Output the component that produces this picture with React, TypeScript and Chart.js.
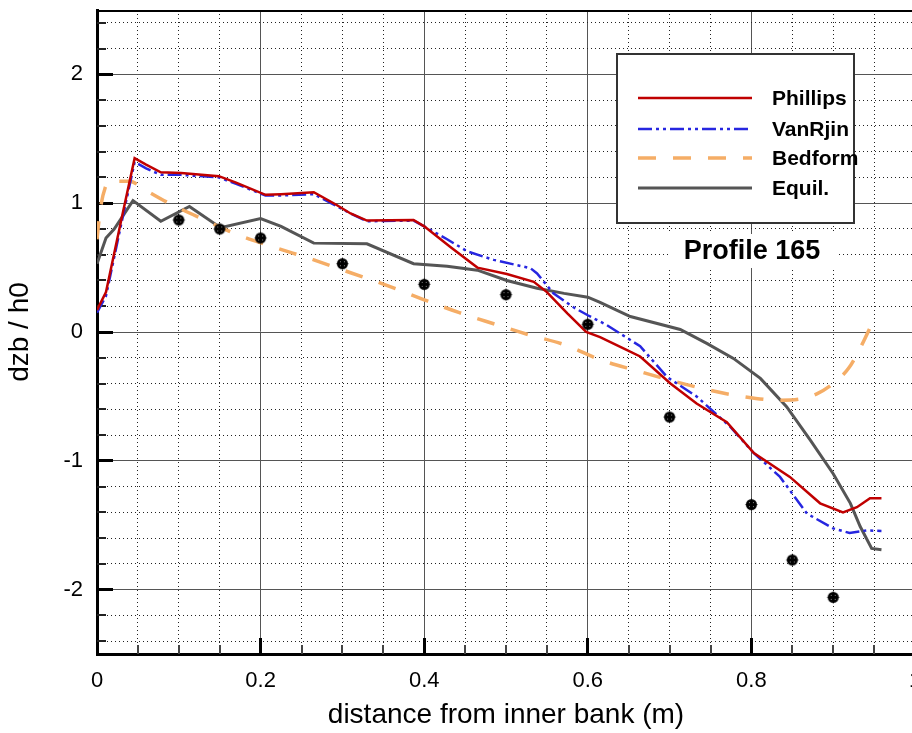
import React, { useEffect, useRef } from "react";
import { Chart, registerables } from "chart.js";

Chart.register(...registerables);

// ---- data (x = distance from inner bank [m], y = dzb/h0) ----
const PHILLIPS: [number, number][] = [
  [0.0, 0.17], [0.011, 0.31], [0.03, 0.88], [0.046, 1.35], [0.06, 1.3], [0.078, 1.24],
  [0.103, 1.235], [0.149, 1.21], [0.17, 1.16], [0.206, 1.065], [0.225, 1.07], [0.265, 1.085],
  [0.292, 0.99], [0.31, 0.92], [0.33, 0.865], [0.387, 0.87], [0.4, 0.82], [0.432, 0.66],
  [0.465, 0.5], [0.501, 0.45], [0.534, 0.39], [0.55, 0.31], [0.575, 0.145], [0.598, 0.0],
  [0.615, -0.04], [0.648, -0.14], [0.664, -0.19], [0.701, -0.4], [0.733, -0.555], [0.77, -0.7],
  [0.803, -0.94], [0.847, -1.125], [0.884, -1.33], [0.912, -1.4], [0.929, -1.36], [0.945, -1.29],
  [0.959, -1.29],
];

const VANRIJN: [number, number][] = [
  [0.0, 0.15], [0.011, 0.28], [0.03, 0.85], [0.046, 1.32], [0.06, 1.27], [0.078, 1.22],
  [0.103, 1.22], [0.149, 1.2], [0.17, 1.15], [0.206, 1.06], [0.225, 1.06], [0.265, 1.07],
  [0.292, 0.98], [0.31, 0.92], [0.33, 0.86], [0.387, 0.865], [0.4, 0.82], [0.428, 0.72],
  [0.453, 0.625], [0.485, 0.56], [0.53, 0.495], [0.538, 0.455], [0.558, 0.3], [0.583, 0.19],
  [0.6, 0.13], [0.623, 0.055], [0.664, -0.11], [0.697, -0.35], [0.733, -0.5], [0.774, -0.735],
  [0.803, -0.94], [0.835, -1.125], [0.868, -1.41], [0.9, -1.525], [0.92, -1.56], [0.941, -1.54],
  [0.959, -1.545],
];

const BEDFORM: [number, number][] = [
  [0.0, 0.72], [0.004, 0.95], [0.01, 1.12], [0.016, 1.17], [0.04, 1.17], [0.057, 1.11],
  [0.085, 1.01], [0.135, 0.86], [0.17, 0.76], [0.216, 0.66], [0.265, 0.56], [0.31, 0.46],
  [0.355, 0.36], [0.4, 0.25], [0.443, 0.15], [0.487, 0.06], [0.527, -0.02], [0.572, -0.1],
  [0.617, -0.22], [0.66, -0.3], [0.704, -0.38], [0.748, -0.45], [0.793, -0.505], [0.835, -0.53],
  [0.86, -0.52], [0.88, -0.48], [0.9, -0.4], [0.919, -0.28], [0.935, -0.1], [0.947, 0.06],
];

const EQUIL: [number, number][] = [
  [0.0, 0.53], [0.011, 0.73], [0.021, 0.8], [0.044, 1.02], [0.078, 0.86], [0.113, 0.975],
  [0.151, 0.81], [0.2, 0.88], [0.225, 0.82], [0.265, 0.69], [0.33, 0.685], [0.387, 0.53],
  [0.428, 0.51], [0.465, 0.48], [0.501, 0.4], [0.538, 0.34], [0.571, 0.3], [0.6, 0.27],
  [0.615, 0.23], [0.652, 0.12], [0.713, 0.02], [0.746, -0.09], [0.778, -0.205], [0.811, -0.36],
  [0.843, -0.58], [0.872, -0.84], [0.9, -1.1], [0.921, -1.33], [0.933, -1.51], [0.947, -1.68],
  [0.959, -1.69],
];

const OBS_X = [0.1, 0.15, 0.2, 0.3, 0.4, 0.5, 0.6, 0.7, 0.8, 0.85, 0.9];
const OBS_Y = [0.87, 0.8, 0.73, 0.53, 0.37, 0.29, 0.06, -0.66, -1.34, -1.77, -2.06];

const X_LABELS = [0, 0.2, 0.4, 0.6, 0.8, 1];
const Y_LABELS = [-2, -1, 0, 1, 2];
const X_MIN = 0, X_MAX = 1, Y_MIN = -2.5, Y_MAX = 2.5;

const SERIES_LABELS = ["Phillips", "VanRjin", "Bedform", "Equil."];
const PROFILE_TEXT = "Profile 165";
const X_TITLE = "distance from inner bank (m)";
const Y_TITLE = "dzb / h0";

const FONT = "'Liberation Sans', Arial, Helvetica, sans-serif";

const isMajorX = (v: number) => X_LABELS.some((l) => Math.abs(l - v) < 1e-6);
const isMajorY = (v: number) => Y_LABELS.some((l) => Math.abs(l - v) < 1e-6);
const toPts = (arr: [number, number][]) => arr.map(([x, y]) => ({ x, y }));

const alignPx = (p: number, w: number) => Math.round(p - w / 2) + w / 2;

function makeMarker(): HTMLCanvasElement {
  const c = document.createElement("canvas");
  c.width = 15;
  c.height = 15;
  const g = c.getContext("2d")!;
  g.fillStyle = "#000";
  g.beginPath();
  g.arc(7.5, 7.5, 5.5, 0, Math.PI * 2);
  g.fill();
  g.strokeStyle = "#000";
  g.lineWidth = 1;
  g.beginPath();
  g.moveTo(7.5, 1.5);
  g.lineTo(7.5, 13.5);
  g.moveTo(1.5, 7.5);
  g.lineTo(13.5, 7.5);
  g.stroke();
  g.fillStyle = "#8a8a8a";
  [[5, 5], [9, 5], [5, 9], [9, 9]].forEach(([x, y]) => g.fillRect(x, y, 1, 1));
  return c;
}

const decorPlugin = {
  id: "decor",
  beforeDatasetsDraw(chart: any) {
    const { ctx, chartArea: a, scales } = chart;
    const x = scales.x, y = scales.y;
    ctx.save();
    // top frame line
    ctx.strokeStyle = "#000";
    ctx.lineWidth = 2;
    ctx.beginPath();
    ctx.moveTo(a.left, a.top + 1);
    ctx.lineTo(a.right, a.top + 1);
    ctx.stroke();
    // inward ticks on left axis
    y.ticks.forEach((t: any) => {
      const major = isMajorY(t.value);
      const lw = major ? 3 : 2;
      const p = alignPx(y.getPixelForValue(t.value), lw);
      ctx.lineWidth = lw;
      ctx.strokeStyle = major ? "#000" : "#222";
      ctx.beginPath();
      ctx.moveTo(a.left, p);
      ctx.lineTo(a.left + (major ? 16 : 9), p);
      ctx.stroke();
    });
    // inward ticks on bottom axis
    x.ticks.forEach((t: any) => {
      if (t.value <= X_MIN + 1e-6) return;
      const major = isMajorX(t.value);
      const lw = major ? 3 : 2;
      const p = alignPx(x.getPixelForValue(t.value), lw);
      ctx.lineWidth = lw;
      ctx.strokeStyle = major ? "#000" : "#444";
      ctx.beginPath();
      ctx.moveTo(p, a.bottom);
      ctx.lineTo(p, a.bottom - (major ? 16 : 9));
      ctx.stroke();
    });
    ctx.restore();
  },
  afterDraw(chart: any) {
    const { ctx } = chart;
    ctx.save();
    // legend box
    ctx.fillStyle = "#fff";
    ctx.fillRect(616, 53, 238, 170);
    ctx.strokeStyle = "#333";
    ctx.lineWidth = 2;
    ctx.strokeRect(617, 54, 237, 169);
    const rows = [98, 129, 158, 188];
    chart.data.datasets.slice(0, 4).forEach((ds: any, i: number) => {
      const yy = rows[i];
      ctx.setLineDash(ds.borderDash || []);
      ctx.strokeStyle = ds.borderColor;
      ctx.lineWidth = ds.borderWidth;
      ctx.beginPath();
      ctx.moveTo(638, yy);
      ctx.lineTo(752, yy);
      ctx.stroke();
      ctx.setLineDash([]);
      ctx.fillStyle = "#000";
      ctx.font = `bold 21px ${FONT}`;
      ctx.textAlign = "left";
      ctx.textBaseline = "middle";
      ctx.fillText(ds.label, 772, yy + 1);
    });
    // profile label
    ctx.fillStyle = "#fff";
    ctx.fillRect(668, 234, 168, 34);
    ctx.fillStyle = "#000";
    ctx.font = `bold 27px ${FONT}`;
    ctx.textAlign = "center";
    ctx.textBaseline = "middle";
    ctx.fillText(PROFILE_TEXT, 752, 252);
    ctx.restore();
  },
};

export default function App() {
  const ref = useRef<HTMLCanvasElement | null>(null);

  useEffect(() => {
    if (!ref.current) return;
    const marker = makeMarker();
    const gridColor = (isMajor: (v: number) => boolean) => (c: any) =>
      c.tick && !isMajor(c.tick.value) ? "#222" : "#555";
    const gridDash = (isMajor: (v: number) => boolean) => (c: any) =>
      c.tick && !isMajor(c.tick.value) ? [1, 3] : [];

    const chart = new Chart(ref.current, {
      type: "line",
      data: {
        datasets: [
          {
            label: SERIES_LABELS[0],
            data: toPts(PHILLIPS),
            borderColor: "#c00000",
            borderWidth: 2.5,
            pointRadius: 0,
            tension: 0,
          },
          {
            label: SERIES_LABELS[1],
            data: toPts(VANRIJN),
            borderColor: "#2626e0",
            borderWidth: 2.5,
            borderDash: [14, 4, 3, 4, 3, 4],
            pointRadius: 0,
            tension: 0,
          },
          {
            label: SERIES_LABELS[2],
            data: toPts(BEDFORM),
            borderColor: "#f5ad66",
            borderWidth: 3.5,
            borderDash: [18, 17],
            pointRadius: 0,
            cubicInterpolationMode: "monotone",
          },
          {
            label: SERIES_LABELS[3],
            data: toPts(EQUIL),
            borderColor: "#555555",
            borderWidth: 3,
            pointRadius: 0,
            tension: 0,
          },
          {
            label: "Observed",
            data: OBS_X.map((x, i) => ({ x, y: OBS_Y[i] })),
            showLine: false,
            pointStyle: marker as any,
            pointRadius: 7,
            order: -1,
          } as any,
        ],
      },
      options: {
        responsive: false,
        animation: false,
        devicePixelRatio: 1,
        events: [],
        layout: { padding: { left: 0, top: 10, right: 15, bottom: 0 } },
        plugins: { legend: { display: false }, tooltip: { enabled: false } },
        scales: {
          x: {
            type: "linear",
            min: X_MIN,
            max: X_MAX,
            afterBuildTicks: (s: any) => {
              const t = [];
              for (let k = 0; k <= 20; k++) t.push({ value: k / 20 });
              s.ticks = t;
            },
            afterFit: (s: any) => {
              s.height = 79;
              s.paddingLeft = 0;
              s.paddingRight = 0;
            },
            ticks: {
              autoSkip: false,
              maxRotation: 0,
              padding: 14,
              color: "#000",
              font: { family: FONT, size: 22 },
              callback: (v: any) => (isMajorX(Number(v)) ? String(Number(v)) : ""),
            },
            grid: { drawTicks: false, lineWidth: 1, color: gridColor(isMajorX) },
            border: { display: true, color: "#000", width: 3, dash: gridDash(isMajorX) },
            title: {
              display: true,
              text: X_TITLE,
              color: "#000",
              font: { family: FONT, size: 28, lineHeight: 1.2 },
              padding: { top: 0, bottom: 1 },
            },
          },
          y: {
            type: "linear",
            min: Y_MIN,
            max: Y_MAX,
            afterBuildTicks: (s: any) => {
              const t = [];
              for (let k = -12; k <= 12; k++) t.push({ value: k / 5 });
              s.ticks = t;
            },
            afterFit: (s: any) => {
              s.width = 97;
              s.paddingTop = 0;
              s.paddingBottom = 0;
            },
            ticks: {
              autoSkip: false,
              padding: 14,
              color: "#000",
              font: { family: FONT, size: 22 },
              callback: (v: any) => (isMajorY(Number(v)) ? String(Number(v)) : ""),
            },
            grid: { drawTicks: false, lineWidth: 1, color: gridColor(isMajorY) },
            border: { display: true, color: "#000", width: 3, dash: gridDash(isMajorY) },
            title: {
              display: true,
              text: Y_TITLE,
              color: "#000",
              font: { family: FONT, size: 28, lineHeight: 1.2 },
              padding: { top: 3, bottom: 0 },
            },
          },
        },
      } as any,
      plugins: [decorPlugin as any],
    });
    return () => chart.destroy();
  }, []);

  return (
    <div
      style={{
        position: "fixed",
        left: 0,
        top: 0,
        width: 912,
        height: 733,
        overflow: "hidden",
        background: "#fff",
      }}
    >
      <canvas ref={ref} width={930} height={733} style={{ display: "block", width: 930, height: 733 }} />
    </div>
  );
}
